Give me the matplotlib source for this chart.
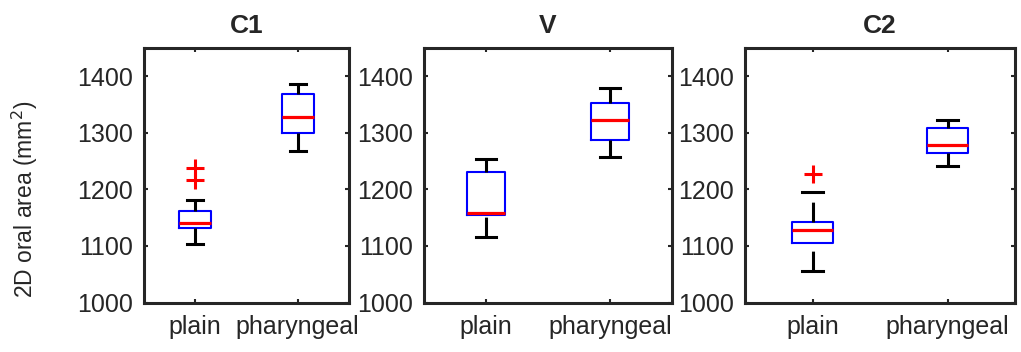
import matplotlib
matplotlib.use("Agg")
import matplotlib.pyplot as plt

plt.rcParams["font.family"] = ["Liberation Sans", "DejaVu Sans"]
plt.rcParams["text.color"] = "#262626"

# 数据：每个条件下 plain / pharyngeal 两组的箱线统计量
conditions = ["C1", "V", "C2"]
groups = ["plain", "pharyngeal"]

whislo = [[1103, 1267], [1116, 1258], [1056, 1242]]
q1 = [[1131, 1299], [1154, 1287], [1105, 1265]]
med = [[1140, 1328], [1159, 1322], [1129, 1278]]
q3 = [[1161, 1368], [1231, 1352], [1142, 1308]]
whishi = [[1182, 1387], [1253, 1380], [1195, 1322]]
fliers = [[[1216, 1237], []], [[], []], [[1227], []]]

yticks = [1000, 1100, 1200, 1300, 1400]

# 子图位置（像素换算）
W, H = 1021, 352
panels_px = [(144, 205), (424, 248), (745, 270)]
top_px, bot_px = 48, 302.5

fig = plt.figure(figsize=(W / 100, H / 100), dpi=100)

for i, cond in enumerate(conditions):
    left, width = panels_px[i]
    ax = fig.add_axes([left / W, 1 - bot_px / H, width / W, (bot_px - top_px) / H])

    stats = []
    for j, g in enumerate(groups):
        stats.append(dict(whislo=whislo[i][j], q1=q1[i][j], med=med[i][j],
                          q3=q3[i][j], whishi=whishi[i][j], fliers=fliers[i][j]))

    res = ax.bxp(stats, positions=[1, 2], widths=0.31, capwidths=0.16,
                 showfliers=True,
                 boxprops=dict(color="blue", linewidth=1.5),
                 medianprops=dict(color="red", linewidth=2.3),
                 whiskerprops=dict(color="black", linewidth=2.2, linestyle=(0, (6.5, 3.0))),
                 capprops=dict(color="black", linewidth=2.2),
                 flierprops=dict(marker="+", markersize=13, markeredgecolor="red",
                                 markeredgewidth=2.2, linestyle="none"))

    # 下须从端帽开始画虚线
    for k, wl in enumerate(res["whiskers"]):
        if k % 2 == 0:
            xd, yd = wl.get_data()
            wl.set_data(list(xd)[::-1], list(yd)[::-1])

    ax.set_xlim(0.5, 2.5)
    ax.set_ylim(1000, 1450)
    ax.set_yticks(yticks)
    ax.set_xticks([1, 2])
    ax.set_xticklabels(groups)
    ax.set_title(cond, fontsize=19, fontweight="bold", pad=11)

    ax.tick_params(direction="in", length=3, width=1.5, top=True, right=True,
                   labelsize=18, colors="#262626")
    ax.tick_params(axis="x", pad=9)
    ax.tick_params(axis="y", pad=8)
    for sp in ax.spines.values():
        sp.set_linewidth(2.2)
        sp.set_color("#262626")

fig.text(25 / W, 1 - 199 / H, "2D oral area (mm$^2$)", rotation=90,
         ha="center", va="center", fontsize=16.5)

plt.savefig("out.png", dpi=100)
plt.close()
